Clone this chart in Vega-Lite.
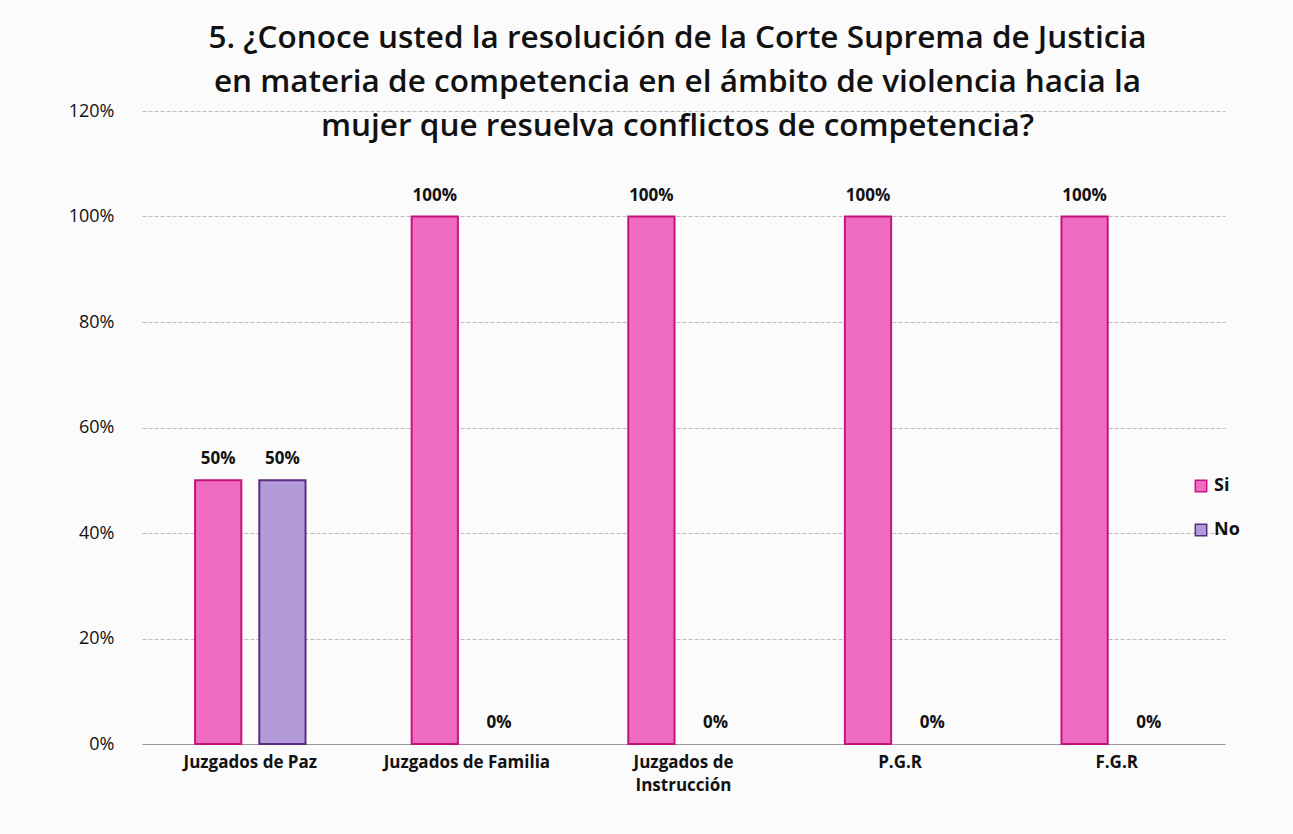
{
  "$schema": "https://vega.github.io/schema/vega-lite/v6.json",
  "width": 1083,
  "height": 633,
  "autosize": "none",
  "padding": {"left": 142, "top": 111, "right": 68, "bottom": 90},
  "background": "#fbfbfb",
  "title": {
    "text": ["5. ¿Conoce usted la resolución de la Corte Suprema de Justicia", "en materia de competencia en el ámbito de violencia hacia la", "mujer que resuelva conflictos de competencia?"],
    "fontSize": 31.5,
    "font": "Open Sans",
    "fontWeight": 600,
    "lineHeight": 44,
    "color": "#111111",
    "anchor": "middle",
    "dx": -6,
    "offset": -40
  },
  "config": {
    "view": {"stroke": null},
    "font": "Open Sans"
  },
  "data": {
    "values": [
      {"categoria": "Juzgados de Paz", "respuesta": "Si", "valor": 0.5},
      {"categoria": "Juzgados de Paz", "respuesta": "No", "valor": 0.5},
      {"categoria": "Juzgados de Familia", "respuesta": "Si", "valor": 1.0},
      {"categoria": "Juzgados de Familia", "respuesta": "No", "valor": 0.0},
      {"categoria": "Juzgados de Instrucción", "respuesta": "Si", "valor": 1.0},
      {"categoria": "Juzgados de Instrucción", "respuesta": "No", "valor": 0.0},
      {"categoria": "P.G.R", "respuesta": "Si", "valor": 1.0},
      {"categoria": "P.G.R", "respuesta": "No", "valor": 0.0},
      {"categoria": "F.G.R", "respuesta": "Si", "valor": 1.0},
      {"categoria": "F.G.R", "respuesta": "No", "valor": 0.0}
    ]
  },
  "encoding": {
    "x": {
      "field": "categoria",
      "type": "nominal",
      "sort": null,
      "scale": {"paddingInner": 0.49, "paddingOuter": 0.245},
      "axis": {
        "title": null,
        "labelAngle": 0,
        "labelFontSize": 17,
        "labelFontWeight": "bold",
        "labelColor": "#111111",
        "labelPadding": 10,
        "labelLineHeight": 23,
        "ticks": false,
        "domainColor": "#999999",
        "labelExpr": "datum.label == 'Juzgados de Instrucción' ? ['Juzgados de', 'Instrucción'] : datum.label"
      }
    },
    "xOffset": {
      "field": "respuesta",
      "type": "nominal",
      "sort": ["Si", "No"],
      "scale": {"domain": ["Si", "No"], "paddingInner": 0.28}
    },
    "y": {
      "field": "valor",
      "type": "quantitative",
      "scale": {"domain": [0, 1.2]},
      "axis": {
        "title": null,
        "format": ".0%",
        "values": [0, 0.2, 0.4, 0.6, 0.8, 1.0, 1.2],
        "labelFontSize": 18,
        "labelColor": "#111111",
        "labelPadding": 28,
        "ticks": false,
        "domain": false,
        "gridColor": "#bbbbbb",
        "gridDash": [4, 2]
      }
    }
  },
  "layer": [
    {
      "transform": [{"filter": "datum.valor > 0"}],
      "mark": {"type": "bar", "strokeWidth": 2},
      "encoding": {
        "color": {
          "field": "respuesta",
          "type": "nominal",
          "sort": ["Si", "No"],
          "scale": {"domain": ["Si", "No"], "range": ["#f06cc2", "#b39ad9"]},
          "legend": {
            "title": null,
            "orient": "none",
            "legendX": 1050,
            "legendY": 366,
            "symbolType": "square",
            "symbolSize": 130,
            "symbolStrokeWidth": 1.5,
            "rowPadding": 26,
            "labelFontSize": 18,
            "labelFontWeight": "bold",
            "labelColor": "#111111"
          }
        },
        "stroke": {
          "field": "respuesta",
          "type": "nominal",
          "scale": {"domain": ["Si", "No"], "range": ["#c4137f", "#5b2d82"]},
          "legend": null
        }
      }
    },
    {
      "mark": {"type": "text", "baseline": "bottom", "dy": -12, "fontSize": 17, "fontWeight": "bold", "color": "#111111"},
      "encoding": {
        "text": {"field": "valor", "type": "quantitative", "format": ".0%"}
      }
    }
  ]
}
